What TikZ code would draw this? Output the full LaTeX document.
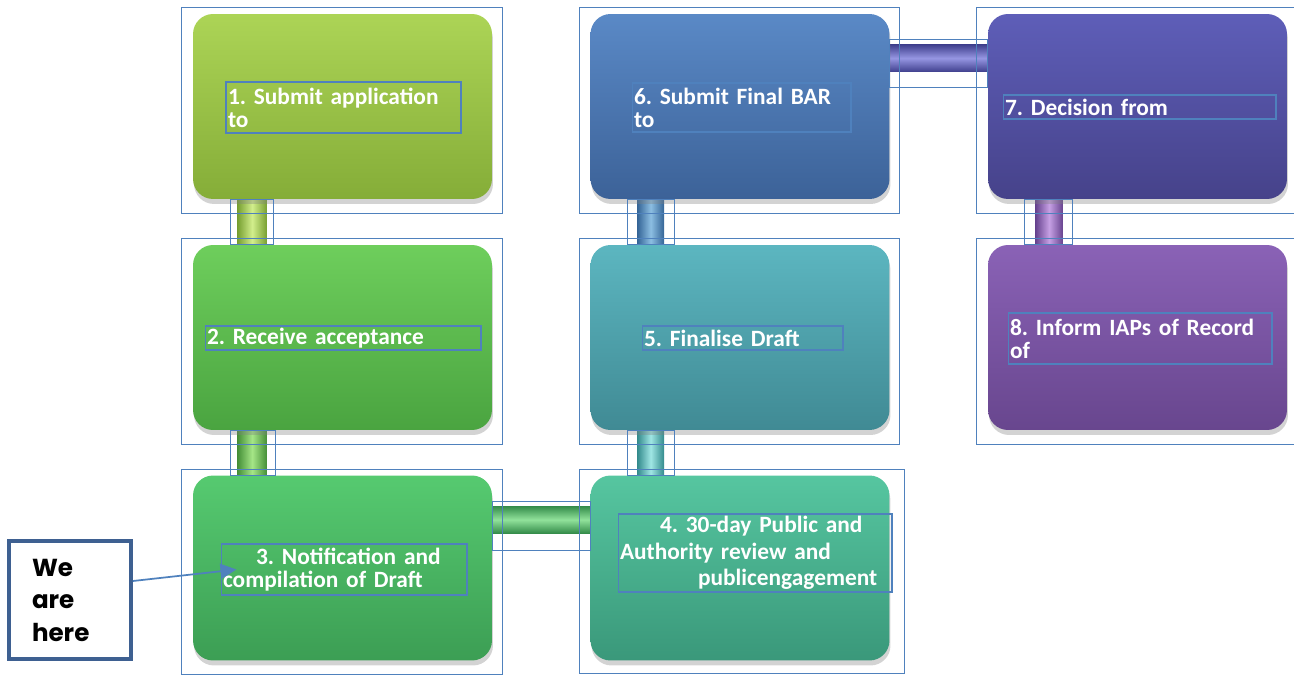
\documentclass[tikz,border=0pt]{standalone}
\usepackage{fontspec}
\setmainfont{Carlito}
\newfontfamily\herefont{Poppins}
\usetikzlibrary{arrows.meta,shadows,backgrounds}

\definecolor{selblue}{RGB}{79,129,189}
\definecolor{herecol}{RGB}{62,96,145}
% pipe colours: dark edge / light middle
\definecolor{p12d}{RGB}{120,160,50}  \definecolor{p12l}{RGB}{210,238,140}
\definecolor{p23d}{RGB}{70,144,56}   \definecolor{p23l}{RGB}{165,230,135}
\definecolor{p34d}{RGB}{52,140,74}   \definecolor{p34l}{RGB}{145,226,155}
\definecolor{p45d}{RGB}{50,138,140}  \definecolor{p45l}{RGB}{160,230,228}
\definecolor{p56d}{RGB}{52,100,150}  \definecolor{p56l}{RGB}{140,190,226}
\definecolor{p67d}{RGB}{64,64,142}   \definecolor{p67l}{RGB}{150,150,226}
\definecolor{p78d}{RGB}{104,68,144}  \definecolor{p78l}{RGB}{198,160,228}

\begin{document}
\begin{tikzpicture}[x=0.02cm,y=-0.02cm,
    stepbox/.style={rounded corners=0.4cm, minimum width=5.98cm, minimum height=3.7cm,
        drop shadow={opacity=0.35, shadow xshift=0.02cm, shadow yshift=-0.1cm}},
    lbl/.style={draw=selblue, line width=0.6pt, text=white, inner sep=1pt, align=left,
        font=\frenchspacing\bfseries\fontsize{13.3}{13}\selectfont},
    selbox/.style={draw=selblue, line width=0.7pt},
    pipev/.style={left color=#1d, right color=#1d, middle color=#1l},
    pipeh/.style={top color=#1d, bottom color=#1d, middle color=#1l}]

    \useasboundingbox (0,0) rectangle (1294,675);

    % boxes
    \node[stepbox, top color={rgb,255:red,172;green,212;blue,86}, bottom color={rgb,255:red,133;green,173;blue,56}] (b1) at (342.5,106.5) {};
    \node[stepbox, top color={rgb,255:red,110;green,206;blue,92}, bottom color={rgb,255:red,74;green,164;blue,64}] (b2) at (342.5,337.5) {};
    \node[stepbox, top color={rgb,255:red,86;green,202;blue,112}, bottom color={rgb,255:red,60;green,158;blue,84}] (b3) at (342.5,568) {};
    \node[stepbox, top color={rgb,255:red,86;green,198;blue,160}, bottom color={rgb,255:red,58;green,152;blue,122}] (b4) at (740,568) {};
    \node[stepbox, top color={rgb,255:red,92;green,182;blue,192}, bottom color={rgb,255:red,64;green,138;blue,148}] (b5) at (740,337.5) {};
    \node[stepbox, top color={rgb,255:red,90;green,137;blue,198}, bottom color={rgb,255:red,60;green,98;blue,152}] (b6) at (740,106.5) {};
    \node[stepbox, top color={rgb,255:red,94;green,94;blue,184}, bottom color={rgb,255:red,70;green,66;blue,138}] (b7) at (1137.5,106.5) {};
    \node[stepbox, top color={rgb,255:red,138;green,98;blue,182}, bottom color={rgb,255:red,104;green,70;blue,142}] (b8) at (1137.5,337.5) {};

    % pipes between the boxes
    \begin{scope}[on background layer]
        \shade[pipev=p12] ([xshift=0.9cm,yshift=0.3cm]b1.south west) rectangle ([xshift=1.48cm,yshift=-0.3cm]b2.north west);
        \shade[pipev=p23] ([xshift=0.9cm,yshift=0.3cm]b2.south west) rectangle ([xshift=1.48cm,yshift=-0.3cm]b3.north west);
        \shade[pipeh=p34] ([xshift=-0.3cm,yshift=-0.62cm]b3.north east) rectangle ([xshift=0.3cm,yshift=-1.16cm]b4.north west);
        \shade[pipev=p45] ([xshift=0.94cm,yshift=0.3cm]b5.south west) rectangle ([xshift=1.48cm,yshift=-0.3cm]b4.north west);
        \shade[pipev=p56] ([xshift=0.94cm,yshift=0.3cm]b6.south west) rectangle ([xshift=1.48cm,yshift=-0.3cm]b5.north west);
        \shade[pipeh=p67] ([xshift=-0.3cm,yshift=-0.62cm]b6.north east) rectangle ([xshift=0.3cm,yshift=-1.16cm]b7.north west);
        \shade[pipev=p78] ([xshift=0.96cm,yshift=0.3cm]b7.south west) rectangle ([xshift=1.5cm,yshift=-0.3cm]b8.north west);
    \end{scope}

    % selection frames
    \foreach \b in {b1,b2,b3,b5,b6,b7,b8}
        \draw[selbox] ([shift={(-0.22cm,0.12cm)}]\b.north west) rectangle ([shift={(0.2cm,-0.28cm)}]\b.south east);
    \draw[selbox] ([shift={(-0.22cm,0.12cm)}]b4.north west) rectangle ([shift={(0.3cm,-0.26cm)}]b4.south east);
    \draw[selbox] ([xshift=0.76cm]b1.south west) rectangle ([xshift=1.62cm]b2.north west);
    \draw[selbox] ([xshift=0.76cm]b2.south west) rectangle ([xshift=1.66cm]b3.north west);
    \draw[selbox] ([yshift=-0.52cm]b3.north east) rectangle ([yshift=-1.5cm]b4.north west);
    \draw[selbox] ([xshift=0.74cm]b5.south west) rectangle ([xshift=1.68cm]b4.north west);
    \draw[selbox] ([xshift=0.74cm]b6.south west) rectangle ([xshift=1.68cm]b5.north west);
    \draw[selbox] ([yshift=-0.52cm]b6.north east) rectangle ([yshift=-1.48cm]b7.north west);
    \draw[selbox] ([xshift=0.74cm]b7.south west) rectangle ([xshift=1.7cm]b8.north west);

    % texts
    \node[lbl, minimum width=4.7cm, minimum height=1.02cm, text width=4.62cm] (t1) at (343.5,107.5)
        {1. Submit application\\to};
    \node[lbl, minimum width=5.52cm, minimum height=0.48cm, text width=5.44cm] (t2) at (343,338)
        {2. Receive acceptance};
    \node[lbl, minimum width=4.92cm, minimum height=1.02cm, text width=4.84cm] (t3) at (344,569.5)
        {\hspace*{0.66cm}3. Notification and\\compilation of Draft};
    \node[lbl, minimum width=5.48cm, minimum height=1.56cm, text width=5.4cm] (t4) at (755,553)
        {\hspace*{0.8cm}4. 30-day Public and\\[2pt]Authority review and\\[2pt]\hspace*{1.56cm}publicengagement};
    \node[lbl, minimum width=4.02cm, minimum height=0.48cm, text width=3.94cm] (t5) at (742.5,338)
        {5. Finalise Draft};
    \node[lbl, minimum width=4.38cm, minimum height=0.98cm, text width=4.3cm] (t6) at (741.5,107.5)
        {6. Submit Final BAR\\to};
    \node[lbl, minimum width=5.46cm, minimum height=0.48cm, text width=5.38cm] (t7) at (1139.5,107)
        {7. Decision from};
    \node[lbl, minimum width=5.28cm, minimum height=1.02cm, text width=5.2cm] (t8) at (1140,338.5)
        {8. Inform IAPs of Record\\of};

    % marker
    \node[draw=herecol, line width=2.2pt, fill=white, minimum width=2.44cm, minimum height=2.36cm,
        inner xsep=0.46cm, text width=1.52cm, align=left,
        font=\herefont\bfseries\fontsize{14}{18.5}\selectfont] (here) at (70,600) {We\\are\\here};
    \draw[selblue, line width=1pt, -{Triangle[length=0.32cm,width=0.3cm]}]
        ([yshift=0.38cm]here.east) -- ([xshift=0.32cm]t3.west);
\end{tikzpicture}
\end{document}
